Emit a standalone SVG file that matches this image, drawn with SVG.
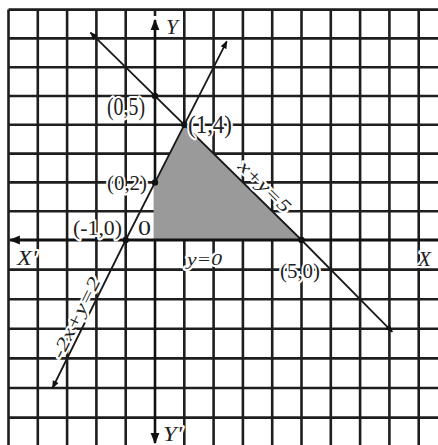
<svg xmlns="http://www.w3.org/2000/svg" width="438" height="445" viewBox="0 0 438 445">
<defs>
<style>
.grid line{stroke:#1e1e1e;stroke-width:2.6}
.ln{fill:none;stroke:#1a1a1a;stroke-width:1.8}
.lbl{font-family:"Liberation Serif","Times New Roman",serif;fill:#222;stroke:#fff;stroke-width:4;stroke-linejoin:round;paint-order:stroke}
.it{font-style:italic}
.dot{fill:#111}
</style>
<marker id="ah" viewBox="0 0 10 10" refX="9" refY="5" markerWidth="8" markerHeight="8" orient="auto-start-reverse" markerUnits="userSpaceOnUse">
<path d="M0,1 L10,5 L0,9 z" fill="#111"/>
</marker>
<marker id="ax" viewBox="0 0 10 10" refX="9" refY="5" markerWidth="11" markerHeight="11" orient="auto-start-reverse" markerUnits="userSpaceOnUse">
<path d="M0,1 L10,5 L0,9 z" fill="#111"/>
</marker>
</defs>
<rect width="438" height="445" fill="#fff"/>
<g id="grid" class="grid">
<line x1="8.5" y1="9.6" x2="8.5" y2="445"/>
<line x1="37.8" y1="9.6" x2="37.8" y2="445"/>
<line x1="67.1" y1="9.6" x2="67.1" y2="445"/>
<line x1="96.4" y1="9.6" x2="96.4" y2="445"/>
<line x1="125.7" y1="9.6" x2="125.7" y2="445"/>
<line x1="184.3" y1="9.6" x2="184.3" y2="445"/>
<line x1="213.6" y1="9.6" x2="213.6" y2="445"/>
<line x1="242.9" y1="9.6" x2="242.9" y2="445"/>
<line x1="272.2" y1="9.6" x2="272.2" y2="445"/>
<line x1="301.5" y1="9.6" x2="301.5" y2="445"/>
<line x1="330.8" y1="9.6" x2="330.8" y2="445"/>
<line x1="360.1" y1="9.6" x2="360.1" y2="445"/>
<line x1="389.4" y1="9.6" x2="389.4" y2="445"/>
<line x1="418.7" y1="9.6" x2="418.7" y2="445"/>
<line x1="8.5" y1="9.6" x2="438" y2="9.6"/>
<line x1="8.5" y1="38.4" x2="438" y2="38.4"/>
<line x1="8.5" y1="67.2" x2="438" y2="67.2"/>
<line x1="8.5" y1="96" x2="438" y2="96"/>
<line x1="8.5" y1="124.8" x2="438" y2="124.8"/>
<line x1="8.5" y1="153.6" x2="438" y2="153.6"/>
<line x1="8.5" y1="182.4" x2="438" y2="182.4"/>
<line x1="8.5" y1="211.2" x2="438" y2="211.2"/>
<line x1="8.5" y1="269.6" x2="438" y2="269.6"/>
<line x1="8.5" y1="299.2" x2="438" y2="299.2"/>
<line x1="8.5" y1="328.8" x2="438" y2="328.8"/>
<line x1="8.5" y1="358.4" x2="438" y2="358.4"/>
<line x1="8.5" y1="388" x2="438" y2="388"/>
<line x1="8.5" y1="417.6" x2="438" y2="417.6"/>
</g>
<g id="axes">
<line x1="155" y1="9.6" x2="155" y2="16" stroke="#1e1e1e" stroke-width="2.6"/>
<line x1="155" y1="20" x2="155" y2="182.4" stroke="#111" stroke-width="2.6" marker-start="url(#ax)"/>
<line x1="155" y1="240" x2="155" y2="443" stroke="#111" stroke-width="2.6" marker-end="url(#ax)"/>
</g>
<g id="region">
<polygon points="153.6,240 153.6,182.4 155,182.4 184.3,124.8 301.5,240" fill="#9a9a9a"/>
</g>
<g id="xaxis">
<line x1="10" y1="240" x2="438" y2="240" stroke="#111" stroke-width="3.2" marker-start="url(#ax)"/>
</g>
<g id="connectors">
<polyline class="ln" points="90.5,32.6 301.5,240 392.3,331.8" marker-start="url(#ah)" marker-end="url(#ah)"/>
<polyline class="ln" points="52.5,388 125.7,240 226.8,41.3" marker-start="url(#ah)" marker-end="url(#ah)"/>
</g>
<g id="points">
<circle class="dot" cx="155" cy="96" r="3.2"/>
<circle class="dot" cx="184.3" cy="124.8" r="3.2"/>
<circle class="dot" cx="155" cy="182.4" r="3.2"/>
<circle class="dot" cx="125.7" cy="240" r="3.2"/>
<circle class="dot" cx="301.5" cy="240" r="3.2"/>
</g>
<g id="labels">
<text class="lbl" x="107" y="115" font-size="25" textLength="38" lengthAdjust="spacingAndGlyphs">(0,5)</text>
<text class="lbl" x="188" y="133" font-size="25" textLength="44" lengthAdjust="spacingAndGlyphs">(1,4)</text>
<text class="lbl" x="107" y="190" font-size="22" textLength="40" lengthAdjust="spacingAndGlyphs">(0,2)</text>
<text class="lbl" x="73" y="235" font-size="22" textLength="49" lengthAdjust="spacingAndGlyphs">(-1,0)</text>
<text class="lbl" x="138" y="235" font-size="22" textLength="13" lengthAdjust="spacingAndGlyphs">0</text>
<text class="lbl" x="280" y="278" font-size="22" textLength="40" lengthAdjust="spacingAndGlyphs">(5,0)</text>
<text class="lbl it" x="187" y="265" font-size="17" textLength="35" lengthAdjust="spacingAndGlyphs">y=0</text>
<text class="lbl it" x="17" y="265" font-size="20" textLength="20" lengthAdjust="spacingAndGlyphs">X'</text>
<text class="lbl it" x="418" y="266" font-size="20" textLength="13" lengthAdjust="spacingAndGlyphs">X</text>
<text class="lbl it" x="166" y="34" font-size="20" textLength="12" lengthAdjust="spacingAndGlyphs">Y</text>
<text class="lbl it" x="163" y="441" font-size="20" textLength="19" lengthAdjust="spacingAndGlyphs">Y'</text>
<text class="lbl it" transform="translate(264,187) rotate(44.5)" x="0" y="5" font-size="18" text-anchor="middle" textLength="66" lengthAdjust="spacingAndGlyphs">x+y=5</text>
<text class="lbl it" transform="translate(77,318) rotate(-63.7)" x="0" y="5" font-size="18" text-anchor="middle" textLength="88" lengthAdjust="spacingAndGlyphs">-2x+y=2</text>
</g>
</svg>
